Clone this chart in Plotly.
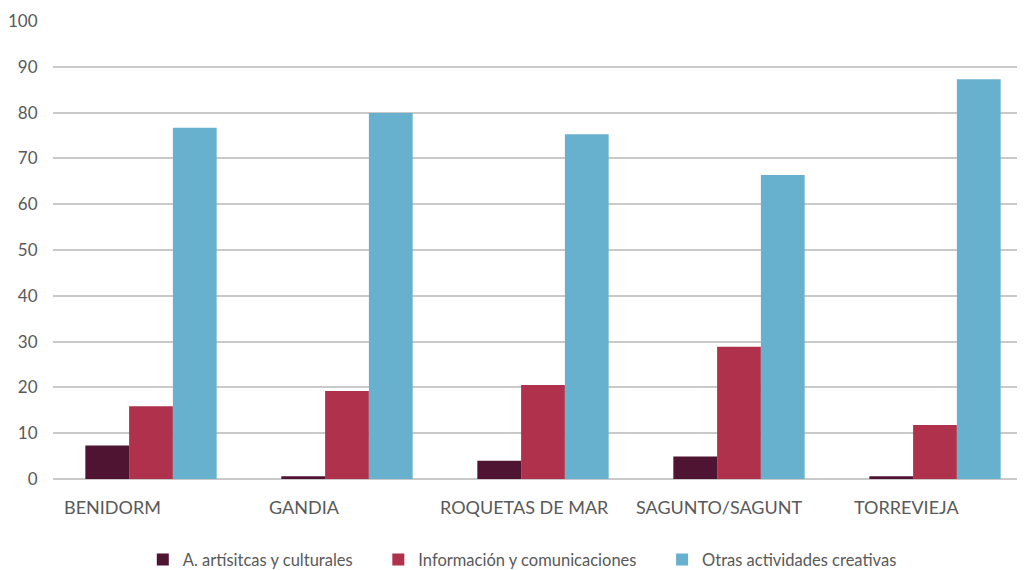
import plotly.graph_objects as go

categories = ["BENIDORM", "GANDIA", "ROQUETAS DE MAR", "SAGUNTO/SAGUNT", "TORREVIEJA"]
series_names = ["A. artísitcas y culturales", "Información y comunicaciones", "Otras actividades creativas"]
artisticas = [7.3, 0.6, 4.0, 4.9, 0.6]
informacion = [15.9, 19.2, 20.5, 28.9, 11.8]
otras = [76.7, 79.9, 75.3, 66.4, 87.3]
y_ticks = [0, 10, 20, 30, 40, 50, 60, 70, 80, 90, 100]

colors = ["#4E1431", "#B0314B", "#67B1CF"]
font_family = "Lato, 'Open Sans', sans-serif"
gray = "#595959"

fig = go.Figure()
for name, vals, col in zip(series_names, [artisticas, informacion, otras], colors):
    fig.add_trace(go.Bar(x=categories, y=vals, name=name + "\u2003\u2002",
                         marker=dict(color=col, line=dict(width=0))))

label_shift = [-39, -43, -19, -20, -29]
for cat, sh in zip(categories, label_shift):
    fig.add_annotation(x=cat, y=0, xref="x", yref="y", text=cat, showarrow=False,
                       yanchor="top", yshift=-15, xshift=sh,
                       font=dict(family=font_family, size=18, color=gray))

fig.update_layout(
    width=1025, height=570,
    margin=dict(l=45, r=0, t=13, b=99, autoexpand=False),
    paper_bgcolor="white", plot_bgcolor="white",
    barmode="group", bargap=0.33, bargroupgap=0,
    font=dict(family=font_family, size=18, color=gray),
    legend=dict(orientation="h", xref="container", yref="container",
                x=0.512, xanchor="center", y=0.032, yanchor="middle",
                font=dict(family=font_family, size=16.5, color=gray), itemwidth=30,
                traceorder="normal"),
    showlegend=True,
)
fig.update_xaxes(showticklabels=False, showgrid=False, showline=False, zeroline=False, automargin=False)
fig.update_yaxes(range=[0, 100], tickvals=y_ticks, showgrid=True, gridcolor="#C9C9C9", gridwidth=2,
                 zeroline=True, zerolinecolor="#C9C9C9", zerolinewidth=2, automargin=False,
                 ticks="outside", ticklen=11, tickcolor="rgba(0,0,0,0)",
                 tickfont=dict(family=font_family, size=17, color=gray))

fig.write_html("out.html")
